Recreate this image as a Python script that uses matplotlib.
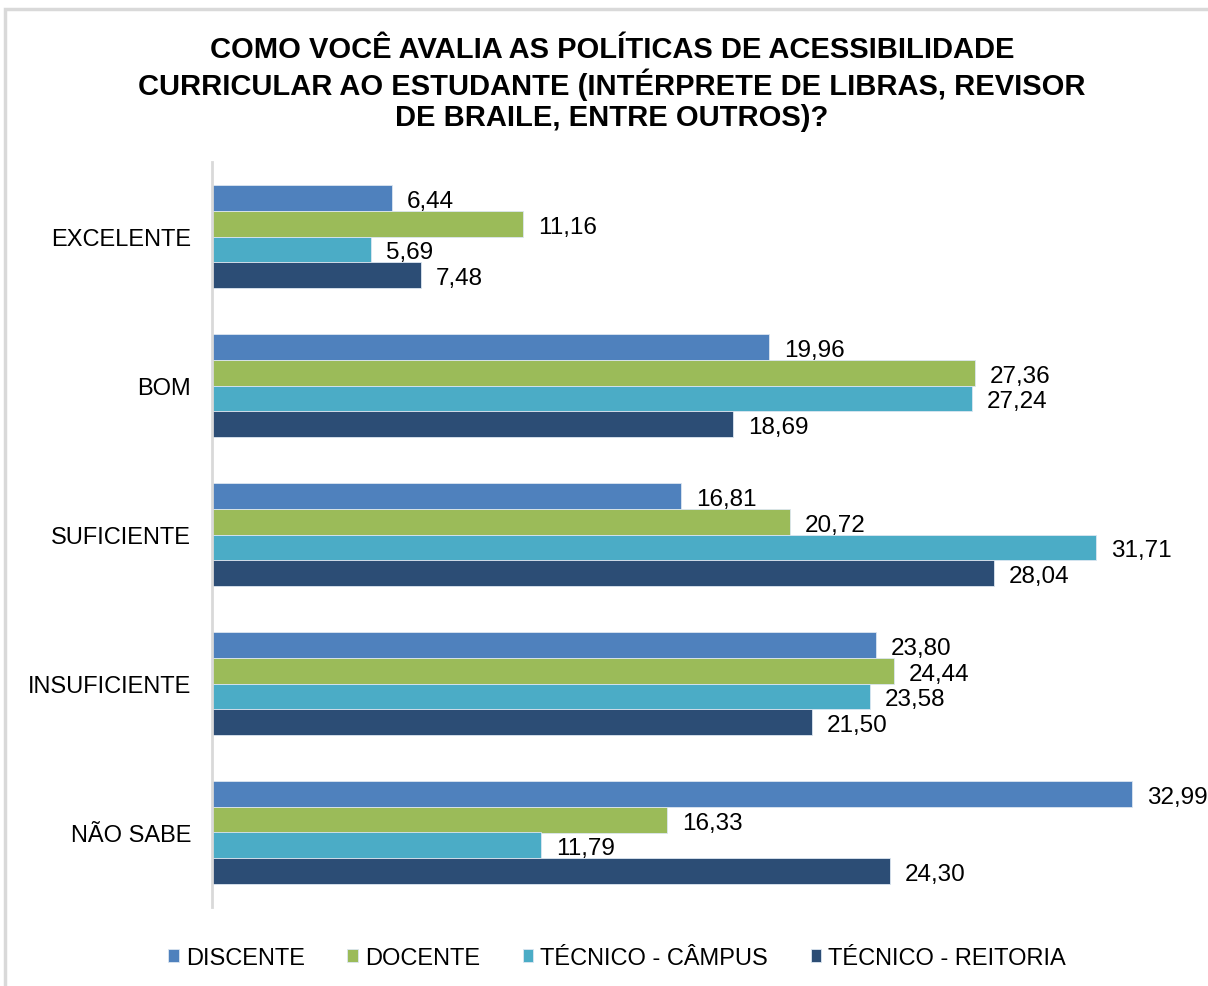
import numpy as np
import matplotlib.pyplot as plt
from matplotlib.patches import Rectangle

plt.rcParams['font.family'] = ['Liberation Sans', 'DejaVu Sans']

categories = ['EXCELENTE', 'BOM', 'SUFICIENTE', 'INSUFICIENTE', 'NÃO SABE']
series = ['DISCENTE', 'DOCENTE', 'TÉCNICO - CÂMPUS', 'TÉCNICO - REITORIA']
discente = [6.44, 19.96, 16.81, 23.80, 32.99]
docente = [11.16, 27.36, 20.72, 24.44, 16.33]
tecnico_campus = [5.69, 27.24, 31.71, 23.58, 11.79]
tecnico_reitoria = [7.48, 18.69, 28.04, 21.50, 24.30]
colors = ['#4F81BD', '#9BBB59', '#4BACC6', '#2C4D75']

title = ('COMO VOCÊ AVALIA AS POLÍTICAS DE ACESSIBILIDADE\n'
         'CURRICULAR AO ESTUDANTE (INTÉRPRETE DE LIBRAS, REVISOR\n'
         'DE BRAILE, ENTRE OUTROS)?')

W, H = 1208, 987
fig = plt.figure(figsize=(W / 100, H / 100), dpi=100)

# light frame of the chart area (only left/top visible in the original)
fig.patches.append(Rectangle((5 / W, -0.1), 1.2, (H - 10) / H + 0.1,
                             transform=fig.transFigure, fill=False,
                             edgecolor='#D9D9D9', linewidth=2.5))

ax = fig.add_axes([212 / W, 1 - 908 / H, 1 - 212 / W, 745 / H])

data = [discente, docente, tecnico_campus, tecnico_reitoria]
y = np.arange(len(categories))
bh = 0.1725
for i, (vals, name, c) in enumerate(zip(data, series, colors)):
    pos = y - 1.5 * bh + i * bh
    bars = ax.barh(pos, vals, height=bh, color=c, edgecolor='#DCE6F1',
                   linewidth=0.6, label=name)
    for b, v in zip(bars, vals):
        ax.annotate(f'{v:.2f}'.replace('.', ','),
                    (b.get_width(), b.get_y() + b.get_height() / 2),
                    xytext=(15, -3), textcoords='offset pixels',
                    va='center', ha='left', fontsize=17.5, color='#000000')

ax.set_xlim(0, (W - 212) / 27.89)
ax.set_ylim(4.5, -0.5)
ax.set_yticks(y)
ax.set_yticklabels(categories, fontsize=17)
ax.tick_params(axis='y', length=0, pad=15)
ax.set_xticks([])
for s in ['top', 'right', 'bottom']:
    ax.spines[s].set_visible(False)
ax.spines['left'].set_color('#D9D9D9')
ax.spines['left'].set_linewidth(2)

fig.text(612 / W, 1 - 84 / H, title, ha='center', va='center',
         fontsize=21, fontweight='bold', linespacing=1.14)

fig.legend(loc='center', bbox_to_anchor=(617 / W, 1 - 959 / H), ncol=4,
           frameon=False, fontsize=17, handlelength=0.45, handleheight=0.45,
           handletextpad=0.3, columnspacing=1.8)

fig.savefig('out.png', dpi=100)
